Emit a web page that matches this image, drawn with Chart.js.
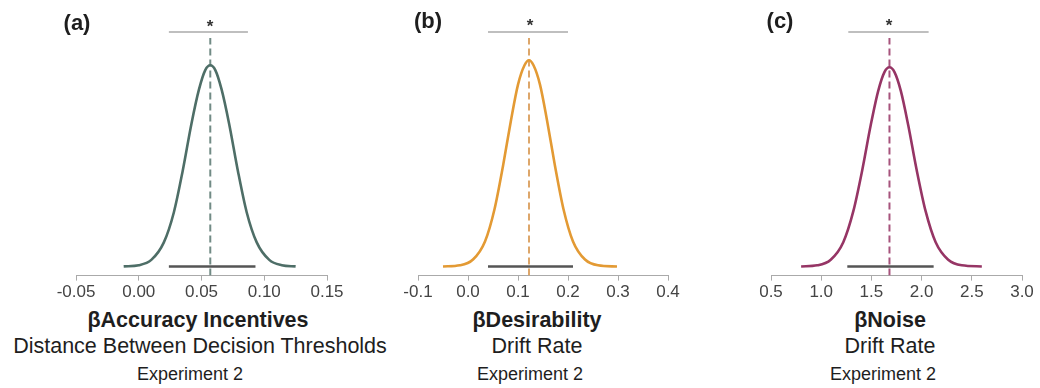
<!DOCTYPE html>
<html>
<head>
<meta charset="utf-8">
<script src="https://cdn.jsdelivr.net/npm/chart.js@4/dist/chart.umd.min.js"></script>
<style>
  body { margin: 0; background: #fff; font-family: 'Liberation Sans', Arial, sans-serif; }
  #wrap { position: relative; width: 1040px; height: 388px; overflow: hidden; }
  canvas { position: absolute; top: 0; }
  .t { position: absolute; transform: translate(-50%, -50%); white-space: nowrap; color: #1e1e1e; }
  .lbl { font-weight: bold; font-size: 22px; }
  .star { font-size: 17px; font-weight: bold; color: #333; }
  .h1 { font-weight: bold; font-size: 21.5px; }
  .h2 { font-size: 21.5px; }
  .h3 { font-size: 18px; }
</style>
</head>
<body>
<div id="wrap">
  <canvas id="ca" width="311" height="305" style="left:46px"></canvas>
  <canvas id="cb" width="310" height="305" style="left:388px"></canvas>
  <canvas id="cc" width="297" height="305" style="left:741px"></canvas>

  <div class="t lbl" style="left:77px;top:23px">(a)</div>
  <div class="t lbl" style="left:428px;top:21px">(b)</div>
  <div class="t lbl" style="left:780px;top:21px">(c)</div>

  <div class="t star" style="left:210px;top:27px">*</div>
  <div class="t star" style="left:530px;top:26px">*</div>
  <div class="t star" style="left:889px;top:26px">*</div>

  <div class="t h1" style="left:198px;top:320px">βAccuracy Incentives</div>
  <div class="t h2" style="left:200px;top:346px">Distance Between Decision Thresholds</div>
  <div class="t h3" style="left:190px;top:374px">Experiment 2</div>

  <div class="t h1" style="left:537px;top:320px">βDesirability</div>
  <div class="t h2" style="left:537px;top:346px">Drift Rate</div>
  <div class="t h3" style="left:530px;top:374px">Experiment 2</div>

  <div class="t h1" style="left:890px;top:320px">βNoise</div>
  <div class="t h2" style="left:890px;top:346px">Drift Rate</div>
  <div class="t h3" style="left:883px;top:374px">Experiment 2</div>
</div>
<script>
// (a) accuracy incentives posterior
const xA = [-0.012, 0.000, 0.010, 0.020, 0.028, 0.035, 0.042, 0.048, 0.053, 0.057, 0.061, 0.066, 0.072, 0.079, 0.086, 0.094, 0.104, 0.114, 0.125];
const yA = [0.0007, 0.0066, 0.033, 0.12, 0.27, 0.475, 0.71, 0.88, 0.976, 1.0, 0.976, 0.88, 0.71, 0.475, 0.27, 0.12, 0.033, 0.0066, 0.0007];
const meanA = 0.057;
const ciA = [0.024, 0.093];
const sigA = [0.024, 0.087];
const ticksA = [-0.05, 0.00, 0.05, 0.10, 0.15];
const tickLabelsA = ['-0.05', '0.00', '0.05', '0.10', '0.15'];

// (b) desirability posterior
const xB = [-0.050, -0.016, 0.010, 0.034, 0.053, 0.070, 0.086, 0.100, 0.113, 0.122, 0.131, 0.144, 0.158, 0.174, 0.191, 0.210, 0.234, 0.260, 0.298];
const yB = [0.0003, 0.006, 0.035, 0.125, 0.285, 0.50, 0.727, 0.904, 1.0, 1.025, 1.0, 0.904, 0.727, 0.50, 0.285, 0.125, 0.035, 0.006, 0.0003];
const meanB = 0.122;
const ciB = [0.04, 0.21];
const sigB = [0.04, 0.20];
const ticksB = [-0.1, 0.0, 0.1, 0.2, 0.3, 0.4];
const tickLabelsB = ['-0.1', '0.0', '0.1', '0.2', '0.3', '0.4'];

// (c) noise posterior
const xC = [0.80, 0.96, 1.095, 1.22, 1.32, 1.41, 1.493, 1.568, 1.63, 1.68, 1.73, 1.793, 1.867, 1.95, 2.04, 2.14, 2.265, 2.40, 2.60];
const yC = [0.0005, 0.006, 0.034, 0.121, 0.275, 0.482, 0.702, 0.873, 0.966, 0.99, 0.966, 0.873, 0.702, 0.482, 0.275, 0.121, 0.034, 0.006, 0.0005];
const meanC = 1.68;
const ciC = [1.26, 2.12];
const sigC = [1.27, 2.07];
const ticksC = [0.5, 1.0, 1.5, 2.0, 2.5, 3.0];
const tickLabelsC = ['0.5', '1.0', '1.5', '2.0', '2.5', '3.0'];

const yMin = -0.045, yMax = 1.225;
const sigY = 1.165, dashTop = 1.135;

function makeChart(id, xs, ys, mean, ci, sig, ticks, tickLabels, color, dashColor, pad) {
    const curve = xs.map((x, i) => ({x: x, y: ys[i]}));
    return new Chart(document.getElementById(id), {
        type: 'line',
        data: {
            datasets: [
                {
                    data: curve,
                    borderColor: color,
                    borderWidth: 2.6,
                    pointRadius: 0,
                    cubicInterpolationMode: 'monotone'
                },
                {
                    data: [{x: ci[0], y: 0}, {x: ci[1], y: 0}],
                    borderColor: '#555',
                    borderWidth: 2.5,
                    pointRadius: 0
                },
                {
                    data: [{x: mean, y: yMin}, {x: mean, y: dashTop}],
                    borderColor: dashColor,
                    borderWidth: 2,
                    borderDash: [7, 4],
                    pointRadius: 0
                },
                {
                    data: [{x: sig[0], y: sigY}, {x: sig[1], y: sigY}],
                    borderColor: '#aaa',
                    borderWidth: 1.5,
                    pointRadius: 0
                }
            ]
        },
        options: {
            responsive: false,
            animation: false,
            layout: { padding: { left: pad[0], right: pad[1], top: 20, bottom: 0 } },
            plugins: { legend: { display: false }, tooltip: { enabled: false } },
            scales: {
                x: {
                    type: 'linear',
                    min: ticks[0],
                    max: ticks[ticks.length - 1],
                    afterBuildTicks: (scale) => {
                        scale.ticks = ticks.map(v => ({value: v}));
                    },
                    ticks: {
                        callback: (v, i) => tickLabels[i],
                        color: '#444',
                        padding: 2,
                        font: { family: 'Liberation Sans', size: 17 }
                    },
                    grid: { drawOnChartArea: false, drawTicks: true, tickLength: 5, color: '#aaa' },
                    border: { display: true, color: '#aaa', width: 1 }
                },
                y: {
                    display: false,
                    min: yMin,
                    max: yMax
                }
            }
        }
    });
}

makeChart('ca', xA, yA, meanA, ciA, sigA, ticksA, tickLabelsA, '#4e6e67', 'rgba(78,110,103,0.8)', [30, 30]);
makeChart('cb', xB, yB, meanB, ciB, sigB, ticksB, tickLabelsB, '#e39a34', 'rgba(215,150,80,0.85)', [30, 30]);
makeChart('cc', xC, yC, meanC, ciC, sigC, ticksC, tickLabelsC, '#963565', 'rgba(150,53,101,0.85)', [30, 16]);
</script>
</body>
</html>
